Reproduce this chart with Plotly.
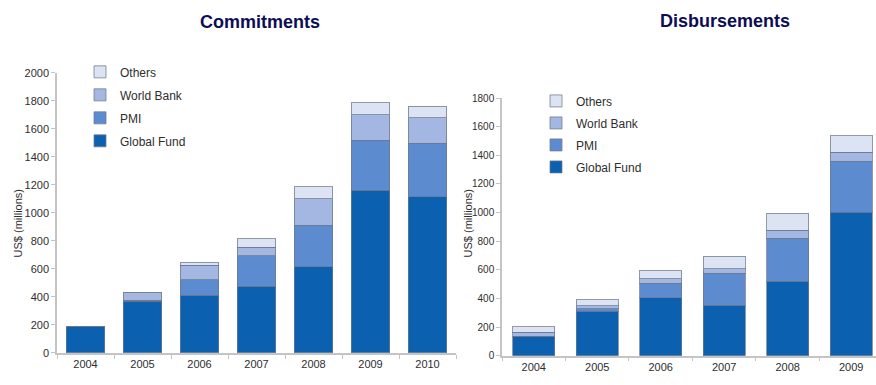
import plotly.graph_objects as go

# Commitments by source, US$ millions
commit_years = ["2004", "2005", "2006", "2007", "2008", "2009", "2010"]
commit_global_fund = [185, 367, 413, 475, 616, 1160, 1116]
commit_pmi = [0, 8, 108, 219, 297, 360, 381]
commit_world_bank = [0, 55, 104, 60, 187, 182, 182]
commit_others = [0, 0, 23, 62, 86, 83, 83]

# Disbursements by source, US$ millions
disb_years = ["2004", "2005", "2006", "2007", "2008", "2009"]
disb_global_fund = [137, 311, 406, 354, 519, 1003]
disb_pmi = [0, 16, 101, 223, 300, 357]
disb_world_bank = [27, 23, 30, 32, 56, 61]
disb_others = [39, 40, 56, 86, 120, 117]

commit_ticks = [0, 200, 400, 600, 800, 1000, 1200, 1400, 1600, 1800, 2000]
disb_ticks = [0, 200, 400, 600, 800, 1000, 1200, 1400, 1600, 1800]

series_names = ["Global Fund", "PMI", "World Bank", "Others"]
legend_ranks = [4, 3, 2, 1]
colors = ["#0b61b0", "#5c8bd0", "#a3b7e2", "#dce4f4"]

W, H = 876, 385
FONT = "Liberation Sans, Arial, sans-serif"
TEXT = "#2e2e2e"
AXIS = "#c4c4c4"


def px_x(p):
    return p / W


def px_y(p):
    return 1 - p / H


fig = go.Figure()

commit_series = [commit_global_fund, commit_pmi, commit_world_bank, commit_others]
disb_series = [disb_global_fund, disb_pmi, disb_world_bank, disb_others]

for name, vals, col, rank in zip(series_names, commit_series, colors, legend_ranks):
    fig.add_trace(go.Bar(
        x=commit_years, y=vals, name=name, marker_color=col,
        marker_line=dict(color="rgba(110,120,140,0.75)", width=1),
        width=0.68, xaxis="x", yaxis="y", legend="legend",
        legendgroup=name, legendrank=rank,
    ))

for name, vals, col, rank in zip(series_names, disb_series, colors, legend_ranks):
    fig.add_trace(go.Bar(
        x=disb_years, y=vals, name=name, marker_color=col,
        marker_line=dict(color="rgba(110,120,140,0.75)", width=1),
        width=0.66, xaxis="x2", yaxis="y2", legend="legend2",
        legendgroup="d" + name, legendrank=rank,
    ))

axis_common = dict(
    showgrid=False, zeroline=False, showline=True, linecolor=AXIS, linewidth=1.5,
    ticks="outside", tickcolor=AXIS, ticklen=4,
)

fig.update_layout(
    width=W, height=H,
    margin=dict(l=0, r=0, t=0, b=0),
    paper_bgcolor="white", plot_bgcolor="white",
    barmode="stack",
    xaxis=dict(domain=[px_x(57), px_x(456)], anchor="y", type="category",
               range=[-0.5, 6.5], tickson="boundaries",
               tickfont=dict(family=FONT, size=11, color=TEXT), **axis_common),
    yaxis=dict(domain=[px_y(358), px_y(69)], anchor="x", range=[0, 2000],
               tickvals=commit_ticks,
               tickfont=dict(family=FONT, size=11, color=TEXT), **axis_common),
    xaxis2=dict(domain=[px_x(502), 1.0], anchor="y2", type="category",
                range=[-0.5, 5.39], tickson="boundaries",
                tickfont=dict(family=FONT, size=11, color=TEXT), **axis_common),
    yaxis2=dict(domain=[px_y(361), px_y(95)], anchor="x2", range=[0, 1800],
                tickvals=disb_ticks,
                tickfont=dict(family=FONT, size=10, color=TEXT), **axis_common),
    legend=dict(x=px_x(80), y=px_y(53), xanchor="left", yanchor="top",
                traceorder="grouped", tracegroupgap=4,
                font=dict(family=FONT, size=12, color=TEXT),
                bgcolor="rgba(0,0,0,0)"),
    legend2=dict(x=px_x(536), y=px_y(83), xanchor="left", yanchor="top",
                 traceorder="grouped", tracegroupgap=3,
                 font=dict(family=FONT, size=12, color=TEXT),
                 bgcolor="rgba(0,0,0,0)"),
    annotations=[
        dict(text="<b>Commitments</b>", x=px_x(260), y=px_y(17), xref="paper", yref="paper",
             showarrow=False, xanchor="center", yanchor="middle",
             font=dict(family=FONT, size=18, color="#0d0d55")),
        dict(text="<b>Disbursements</b>", x=px_x(725), y=px_y(15), xref="paper", yref="paper",
             showarrow=False, xanchor="center", yanchor="middle",
             font=dict(family=FONT, size=18, color="#0d0d55")),
        dict(text="US$ (millions)", x=px_x(17.5), y=px_y(225), xref="paper", yref="paper",
             showarrow=False, textangle=-90, xanchor="center", yanchor="middle",
             font=dict(family=FONT, size=11, color=TEXT)),
        dict(text="US$ (millions)", x=px_x(467.5), y=px_y(225), xref="paper", yref="paper",
             showarrow=False, textangle=-90, xanchor="center", yanchor="middle",
             font=dict(family=FONT, size=11, color=TEXT)),
    ],
)

fig.write_html("out.html")
